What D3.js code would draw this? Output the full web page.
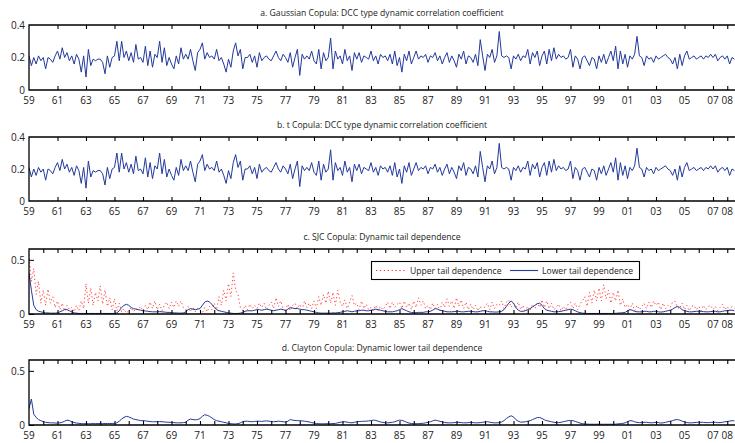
<!DOCTYPE html>
<html>
<head>
<meta charset="utf-8">
<script src="https://cdn.jsdelivr.net/npm/d3@7"></script>
<style>
  body { margin: 0; background: #fff; }
  svg text { font-family: "Open Sans", "Noto Sans", sans-serif; fill: #222; }
</style>
</head>
<body>
<div id="chart"></div>
<script>
// Time base: six observations per year starting Jan 1959
const startYear = 1959;
const perYear = 6;

const yearTicks = [1959, 1961, 1963, 1965, 1967, 1969, 1971, 1973, 1975, 1977, 1979, 1981, 1983,
    1985, 1987, 1989, 1991, 1993, 1995, 1997, 1999, 2001, 2003, 2005, 2007, 2008];

// a. Gaussian copula DCC correlation
const gaussCorr = [
    0.21, 0.15, 0.20, 0.16, 0.21, 0.18,
    0.20, 0.13, 0.20, 0.19, 0.17, 0.21,
    0.24, 0.19, 0.26, 0.20, 0.23, 0.18,
    0.21, 0.16, 0.22, 0.19, 0.11, 0.21,
    0.08, 0.25, 0.15, 0.19, 0.18, 0.19,
    0.19, 0.17, 0.10, 0.21, 0.14, 0.20,
    0.21, 0.30, 0.18, 0.30, 0.20, 0.24,
    0.18, 0.23, 0.17, 0.28, 0.19, 0.20,
    0.17, 0.27, 0.15, 0.24, 0.14, 0.22,
    0.20, 0.30, 0.17, 0.26, 0.15, 0.20,
    0.16, 0.13, 0.21, 0.16, 0.26, 0.19,
    0.22, 0.19, 0.25, 0.18, 0.12, 0.23,
    0.25, 0.29, 0.19, 0.23, 0.20, 0.21,
    0.19, 0.25, 0.18, 0.20, 0.16, 0.11,
    0.19, 0.14, 0.24, 0.29, 0.21, 0.25,
    0.13, 0.20, 0.20, 0.22, 0.17, 0.21,
    0.14, 0.23, 0.18, 0.20, 0.21, 0.19,
    0.18, 0.21, 0.24, 0.20, 0.18, 0.22,
    0.20, 0.17, 0.23, 0.14, 0.20, 0.25,
    0.09, 0.22, 0.19, 0.21, 0.19, 0.24,
    0.18, 0.16, 0.25, 0.13, 0.23, 0.18,
    0.20, 0.32, 0.13, 0.24, 0.19, 0.21,
    0.16, 0.25, 0.18, 0.21, 0.12, 0.23,
    0.19, 0.23, 0.17, 0.21, 0.20, 0.19,
    0.24, 0.18, 0.21, 0.16, 0.22, 0.20,
    0.21, 0.18, 0.22, 0.16, 0.24, 0.15,
    0.20, 0.11, 0.22, 0.18, 0.24, 0.16,
    0.20, 0.24, 0.19, 0.21, 0.20, 0.22,
    0.17, 0.21, 0.20, 0.23, 0.18, 0.21,
    0.16, 0.20, 0.23, 0.17, 0.21, 0.18,
    0.14, 0.22, 0.19, 0.24, 0.16, 0.21,
    0.20, 0.17, 0.22, 0.15, 0.31, 0.21,
    0.12, 0.22, 0.20, 0.25, 0.17, 0.21,
    0.36, 0.21, 0.20, 0.21, 0.20, 0.13,
    0.21, 0.19, 0.22, 0.18, 0.21, 0.20,
    0.25, 0.16, 0.23, 0.20, 0.24, 0.15,
    0.21, 0.24, 0.16, 0.25, 0.18, 0.26,
    0.19, 0.22, 0.20, 0.21, 0.19, 0.20,
    0.25, 0.14, 0.21, 0.19, 0.13, 0.20,
    0.21, 0.18, 0.15, 0.20, 0.19, 0.13,
    0.21, 0.17, 0.22, 0.16, 0.20, 0.24,
    0.18, 0.27, 0.13, 0.24, 0.16, 0.22,
    0.14, 0.21, 0.19, 0.22, 0.33, 0.21,
    0.20, 0.15, 0.21, 0.19, 0.20, 0.17,
    0.21, 0.19, 0.20, 0.21, 0.22, 0.20,
    0.19, 0.16, 0.20, 0.13, 0.22, 0.15,
    0.21, 0.24, 0.19, 0.20, 0.21, 0.19,
    0.20, 0.21, 0.19, 0.21, 0.20, 0.22,
    0.20, 0.22, 0.18, 0.20, 0.21, 0.19,
    0.21, 0.16, 0.20, 0.19
];

// b. t copula DCC correlation (practically identical to a.)
const tCorr = gaussCorr.slice();

// c. SJC copula upper tail dependence
const sjcUpper = [
    0.55, 0.30, 0.42, 0.18, 0.30, 0.10,
    0.22, 0.08, 0.23, 0.10, 0.16, 0.06,
    0.12, 0.04, 0.10, 0.03, 0.08, 0.04,
    0.06, 0.02, 0.08, 0.03, 0.12, 0.05,
    0.28, 0.10, 0.24, 0.08, 0.20, 0.12,
    0.26, 0.09, 0.22, 0.07, 0.15, 0.04,
    0.14, 0.03, 0.10, 0.02, 0.05, 0.01,
    0.03, 0.06, 0.02, 0.05, 0.04, 0.07,
    0.03, 0.08, 0.04, 0.11, 0.05, 0.12,
    0.04, 0.09, 0.03, 0.08, 0.11, 0.05,
    0.11, 0.06, 0.12, 0.07, 0.12, 0.06,
    0.04, 0.07, 0.02, 0.06, 0.02, 0.05,
    0.03, 0.01, 0.06, 0.02, 0.07, 0.04,
    0.10, 0.04, 0.16, 0.08, 0.22, 0.12,
    0.28, 0.16, 0.38, 0.22, 0.18, 0.06,
    0.03, 0.08, 0.04, 0.09, 0.05, 0.08,
    0.05, 0.10, 0.06, 0.10, 0.04, 0.08,
    0.11, 0.05, 0.15, 0.07, 0.12, 0.05,
    0.04, 0.09, 0.03, 0.08, 0.10, 0.05,
    0.09, 0.04, 0.12, 0.06, 0.10, 0.05,
    0.12, 0.05, 0.16, 0.08, 0.18, 0.10,
    0.21, 0.10, 0.20, 0.08, 0.22, 0.11,
    0.07, 0.13, 0.05, 0.11, 0.17, 0.08,
    0.10, 0.04, 0.12, 0.05, 0.09, 0.04,
    0.06, 0.03, 0.08, 0.03, 0.07, 0.04,
    0.07, 0.11, 0.05, 0.11, 0.06, 0.09,
    0.11, 0.05, 0.12, 0.06, 0.10, 0.04,
    0.12, 0.06, 0.15, 0.08, 0.12, 0.05,
    0.08, 0.04, 0.10, 0.05, 0.09, 0.03,
    0.11, 0.06, 0.14, 0.07, 0.12, 0.05,
    0.15, 0.07, 0.13, 0.05, 0.11, 0.04,
    0.09, 0.04, 0.08, 0.03, 0.07, 0.03,
    0.07, 0.10, 0.04, 0.11, 0.05, 0.09,
    0.08, 0.12, 0.05, 0.11, 0.13, 0.06,
    0.10, 0.05, 0.11, 0.04, 0.08, 0.03,
    0.07, 0.03, 0.09, 0.05, 0.10, 0.06,
    0.13, 0.06, 0.12, 0.05, 0.10, 0.04,
    0.06, 0.09, 0.03, 0.07, 0.04, 0.09,
    0.11, 0.05, 0.10, 0.04, 0.09, 0.12,
    0.16, 0.07, 0.20, 0.10, 0.22, 0.12,
    0.24, 0.12, 0.27, 0.14, 0.22, 0.10,
    0.20, 0.12, 0.22, 0.08, 0.14, 0.06,
    0.09, 0.04, 0.10, 0.03, 0.08, 0.04,
    0.07, 0.10, 0.05, 0.11, 0.06, 0.12,
    0.08, 0.11, 0.04, 0.10, 0.05, 0.08,
    0.06, 0.11, 0.12, 0.06, 0.05, 0.10,
    0.04, 0.08, 0.03, 0.07, 0.08, 0.04,
    0.07, 0.03, 0.08, 0.04, 0.07, 0.08,
    0.04, 0.07, 0.03, 0.06, 0.09, 0.04,
    0.07, 0.03, 0.07, 0.05
];

// c. SJC copula lower tail dependence
const sjcLower = [
    0.38, 0.22, 0.08, 0.04, 0.025, 0.02,
    0.015, 0.01, 0.01, 0.008, 0.008, 0.008,
    0.01, 0.02, 0.03, 0.04, 0.04, 0.03,
    0.02, 0.01, 0.008, 0.005, 0.005, 0.005,
    0.005, 0.005, 0.005, 0.005, 0.005, 0.005,
    0.005, 0.005, 0.005, 0.005, 0.005, 0.005,
    0.005, 0.01, 0.03, 0.06, 0.08, 0.09,
    0.08, 0.06, 0.05, 0.045, 0.04, 0.035,
    0.03, 0.028, 0.025, 0.022, 0.02, 0.02,
    0.02, 0.022, 0.02, 0.018, 0.015, 0.015,
    0.012, 0.01, 0.01, 0.008, 0.008, 0.01,
    0.02, 0.04, 0.05, 0.045, 0.04, 0.045,
    0.05, 0.08, 0.11, 0.12, 0.11, 0.09,
    0.06, 0.04, 0.03, 0.025, 0.02, 0.015,
    0.01, 0.008, 0.005, 0.005, 0.005, 0.008,
    0.015, 0.025, 0.03, 0.03, 0.03, 0.035,
    0.04, 0.04, 0.035, 0.04, 0.045, 0.04,
    0.035, 0.03, 0.035, 0.04, 0.045, 0.04,
    0.03, 0.045, 0.06, 0.055, 0.05, 0.05,
    0.045, 0.04, 0.04, 0.035, 0.03, 0.025,
    0.02, 0.015, 0.01, 0.008, 0.008, 0.008,
    0.008, 0.008, 0.01, 0.01, 0.012, 0.015,
    0.02, 0.025, 0.03, 0.025, 0.02, 0.025,
    0.03, 0.03, 0.035, 0.035, 0.03, 0.03,
    0.035, 0.04, 0.045, 0.04, 0.035, 0.03,
    0.025, 0.02, 0.02, 0.02, 0.025, 0.03,
    0.04, 0.05, 0.04, 0.03, 0.02, 0.015,
    0.012, 0.012, 0.015, 0.015, 0.015, 0.02,
    0.02, 0.025, 0.035, 0.05, 0.045, 0.035,
    0.03, 0.025, 0.02, 0.02, 0.02, 0.022,
    0.025, 0.025, 0.02, 0.02, 0.022, 0.025,
    0.025, 0.022, 0.02, 0.02, 0.025, 0.03,
    0.03, 0.025, 0.02, 0.02, 0.018, 0.018,
    0.02, 0.025, 0.04, 0.07, 0.10, 0.12,
    0.10, 0.06, 0.035, 0.025, 0.025, 0.03,
    0.04, 0.05, 0.065, 0.08, 0.095, 0.10,
    0.08, 0.05, 0.035, 0.03, 0.025, 0.02,
    0.02, 0.022, 0.025, 0.03, 0.035, 0.04,
    0.045, 0.04, 0.03, 0.02, 0.012, 0.008,
    0.006, 0.005, 0.005, 0.005, 0.005, 0.005,
    0.005, 0.005, 0.005, 0.005, 0.005, 0.005,
    0.005, 0.006, 0.008, 0.01, 0.012, 0.015,
    0.03, 0.04, 0.035, 0.025, 0.02, 0.02,
    0.02, 0.025, 0.025, 0.02, 0.02, 0.025,
    0.025, 0.02, 0.018, 0.02, 0.025, 0.03,
    0.035, 0.045, 0.06, 0.07, 0.06, 0.04,
    0.03, 0.025, 0.02, 0.02, 0.022, 0.025,
    0.025, 0.025, 0.022, 0.02, 0.02, 0.022,
    0.025, 0.025, 0.02, 0.02, 0.025, 0.03,
    0.03, 0.035, 0.035, 0.03
];

// d. Clayton copula lower tail dependence
const claytonLower = [
    0.15, 0.24, 0.10, 0.07, 0.05, 0.04,
    0.03, 0.025, 0.022, 0.02, 0.02, 0.018,
    0.018, 0.02, 0.025, 0.035, 0.045, 0.04,
    0.03, 0.022, 0.018, 0.015, 0.013, 0.012,
    0.012, 0.012, 0.012, 0.013, 0.013, 0.013,
    0.013, 0.013, 0.013, 0.014, 0.014, 0.014,
    0.015, 0.02, 0.035, 0.055, 0.07, 0.08,
    0.075, 0.065, 0.055, 0.05, 0.045, 0.04,
    0.04, 0.038, 0.035, 0.032, 0.03, 0.03,
    0.03, 0.032, 0.03, 0.028, 0.026, 0.025,
    0.024, 0.022, 0.02, 0.02, 0.02, 0.022,
    0.025, 0.045, 0.055, 0.05, 0.048, 0.05,
    0.06, 0.08, 0.095, 0.09, 0.08, 0.065,
    0.05, 0.04, 0.035, 0.03, 0.025, 0.02,
    0.015, 0.012, 0.01, 0.01, 0.012, 0.02,
    0.03, 0.035, 0.035, 0.032, 0.03, 0.033,
    0.035, 0.035, 0.033, 0.036, 0.038, 0.035,
    0.033, 0.03, 0.032, 0.035, 0.033, 0.03,
    0.027, 0.035, 0.05, 0.045, 0.042, 0.04,
    0.04, 0.038, 0.035, 0.032, 0.028, 0.022,
    0.018, 0.014, 0.012, 0.011, 0.011, 0.012,
    0.012, 0.012, 0.013, 0.015, 0.02, 0.025,
    0.028, 0.03, 0.026, 0.022, 0.02, 0.025,
    0.03, 0.032, 0.033, 0.035, 0.035, 0.038,
    0.04, 0.045, 0.042, 0.035, 0.028, 0.024,
    0.02, 0.02, 0.022, 0.025, 0.03, 0.038,
    0.045, 0.042, 0.035, 0.025, 0.018, 0.014,
    0.012, 0.012, 0.013, 0.014, 0.016, 0.02,
    0.025, 0.03, 0.038, 0.045, 0.04, 0.034,
    0.028, 0.024, 0.02, 0.02, 0.02, 0.022,
    0.024, 0.025, 0.022, 0.02, 0.02, 0.022,
    0.024, 0.022, 0.02, 0.02, 0.022, 0.025,
    0.028, 0.03, 0.026, 0.022, 0.02, 0.02,
    0.022, 0.028, 0.04, 0.06, 0.075, 0.085,
    0.075, 0.05, 0.035, 0.027, 0.027, 0.03,
    0.035, 0.04, 0.05, 0.06, 0.068, 0.07,
    0.06, 0.048, 0.04, 0.035, 0.03, 0.025,
    0.022, 0.022, 0.025, 0.03, 0.035, 0.04,
    0.042, 0.04, 0.033, 0.025, 0.018, 0.012,
    0.01, 0.008, 0.007, 0.007, 0.007, 0.007,
    0.007, 0.007, 0.007, 0.007, 0.007, 0.007,
    0.007, 0.008, 0.01, 0.012, 0.015, 0.02,
    0.03, 0.04, 0.038, 0.03, 0.024, 0.022,
    0.022, 0.025, 0.025, 0.022, 0.02, 0.022,
    0.025, 0.022, 0.018, 0.02, 0.025, 0.03,
    0.035, 0.04, 0.048, 0.05, 0.045, 0.035,
    0.028, 0.022, 0.02, 0.02, 0.022, 0.024,
    0.025, 0.025, 0.024, 0.022, 0.022, 0.024,
    0.025, 0.025, 0.022, 0.022, 0.025, 0.03,
    0.032, 0.036, 0.04, 0.038
];

const panelTitles = [
    'a. Gaussian Copula: DCC type dynamic correlation coefficient',
    'b. t Copula: DCC type dynamic correlation coefficient',
    'c. SJC Copula: Dynamic tail dependence',
    'd. Clayton Copula: Dynamic lower tail dependence'
];
const legendLabels = ['Upper tail dependence', 'Lower tail dependence'];

const blue = '#23399b';
const red = '#ff2a2a';

const W = 735, H = 443;
const left = 29, right = 735;

const svg = d3.select('#chart').append('svg')
    .attr('width', W)
    .attr('height', H);

const x = d3.scaleLinear()
    .domain([startYear, startYear + (right - left) / 14.25])
    .range([left, right]);

const toSeries = (vals) => vals.map((v, i) => ({ t: startYear + i / perYear, v: v }));

const panels = [
    { top: 25, bottom: 90, max: 0.4, yticks: [0, 0.2, 0.4], minor: false,
      series: [{ data: gaussCorr, color: blue }] },
    { top: 137, bottom: 201, max: 0.4, yticks: [0, 0.2, 0.4], minor: false,
      series: [{ data: tCorr, color: blue }] },
    { top: 249, bottom: 314, max: 0.6, yticks: [0, 0.5], minor: true,
      series: [{ data: sjcUpper, color: red, dash: '1.3,2.6' }, { data: sjcLower, color: blue }] },
    { top: 360, bottom: 425, max: 0.6, yticks: [0, 0.5], minor: true,
      series: [{ data: claytonLower, color: blue }] }
];

const fmtYear = (d) => String(d % 100).padStart(2, '0');

panels.forEach((p, pi) => {
    const y = d3.scaleLinear().domain([0, p.max]).range([p.bottom, p.top]);
    const g = svg.append('g');

    const clipId = 'clip' + pi;
    svg.append('clipPath').attr('id', clipId)
        .append('rect')
        .attr('x', left).attr('y', p.top)
        .attr('width', right - left).attr('height', p.bottom - p.top);

    // Title
    svg.append('text')
        .attr('x', 382)
        .attr('y', p.top - 9)
        .attr('text-anchor', 'middle')
        .style('font-size', '8.6px')
        .text(panelTitles[pi]);

    // Series
    const line = d3.line().x((d) => x(d.t)).y((d) => y(d.v));
    p.series.forEach((s) => {
        g.append('path')
            .datum(toSeries(s.data))
            .attr('clip-path', `url(#${clipId})`)
            .attr('fill', 'none')
            .attr('stroke', s.color)
            .attr('stroke-width', 1)
            .attr('stroke-opacity', s.dash ? 0.85 : 1)
            .attr('stroke-dasharray', s.dash || null)
            .attr('d', line);
    });

    // Frame
    g.append('path')
        .attr('d', `M${right + 1},${p.top}H${left}V${p.bottom}H${right + 1}`)
        .attr('fill', 'none')
        .attr('stroke', '#000')
        .attr('stroke-width', 1.3);

    // x ticks (inside, top and bottom)
    const tickYears = p.minor ? d3.range(1960, 2009) : yearTicks;
    const allTicks = Array.from(new Set(tickYears.concat(yearTicks))).filter((t) => t > startYear);
    const bottomAxis = g.append('g')
        .attr('transform', `translate(0,${p.bottom})`)
        .call(d3.axisBottom(x).tickValues(allTicks).tickSize(-4).tickFormat(''));
    const topAxis = g.append('g')
        .attr('transform', `translate(0,${p.top})`)
        .call(d3.axisTop(x).tickValues(allTicks).tickSize(-4).tickFormat(''));
    [bottomAxis, topAxis].forEach((a) => {
        a.select('.domain').remove();
        a.selectAll('line').attr('stroke', '#000').attr('stroke-width', 1.1);
    });

    // x labels
    g.selectAll('.xlab')
        .data(yearTicks)
        .join('text')
        .attr('class', 'xlab')
        .attr('x', (d) => x(d))
        .attr('y', p.bottom + 14)
        .attr('text-anchor', 'middle')
        .style('font-size', '10px')
        .text(fmtYear);

    // y axis
    const yAxis = g.append('g')
        .attr('transform', `translate(${left},0)`)
        .call(d3.axisLeft(y).tickValues(p.yticks).tickSize(p.minor ? -5 : 0)
            .tickPadding(4).tickFormat((d) => (d === 0 ? '0' : d3.format('.1f')(d))));
    yAxis.select('.domain').remove();
    yAxis.selectAll('line').attr('stroke', '#000');
    yAxis.selectAll('text').style('font-size', '10px').attr('fill', '#222')
        .style('font-family', '"Open Sans", sans-serif');
});

// Legend for panel c
const leg = svg.append('g');
leg.append('rect')
    .attr('x', 371.5).attr('y', 261.5)
    .attr('width', 268).attr('height', 18)
    .attr('fill', '#fff').attr('stroke', '#000').attr('stroke-width', 1.1);
leg.append('line')
    .attr('x1', 376).attr('x2', 406).attr('y1', 270.5).attr('y2', 270.5)
    .attr('stroke', red).attr('stroke-width', 1).attr('stroke-dasharray', '1.3,2.6');
leg.append('text')
    .attr('x', 410).attr('y', 273.5)
    .style('font-size', '8.6px')
    .text(legendLabels[0]);
leg.append('line')
    .attr('x1', 510).attr('x2', 538).attr('y1', 270.5).attr('y2', 270.5)
    .attr('stroke', blue).attr('stroke-width', 1.1);
leg.append('text')
    .attr('x', 542).attr('y', 273.5)
    .style('font-size', '8.6px')
    .text(legendLabels[1]);
</script>
</body>
</html>
